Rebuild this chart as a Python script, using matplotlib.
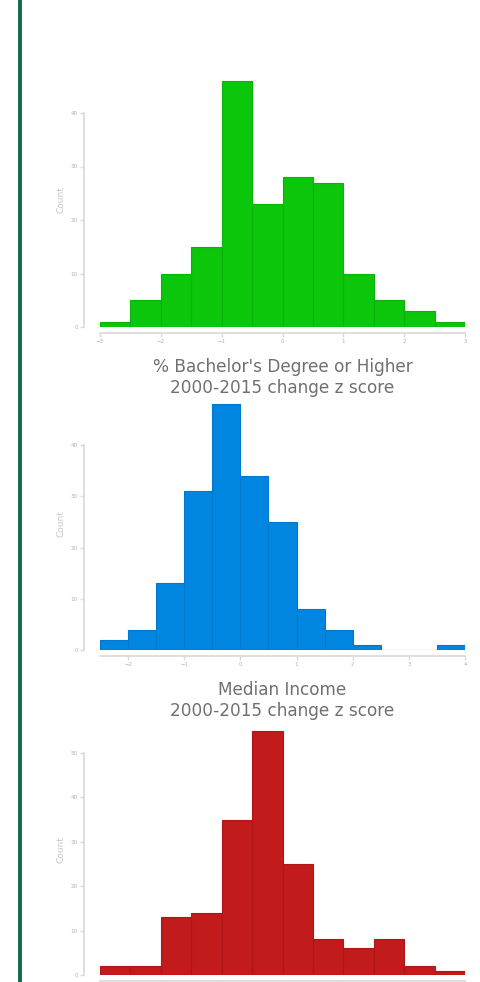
import matplotlib
matplotlib.use("Agg")
import matplotlib.pyplot as plt
import numpy as np

# ---------------- data ----------------
bach_edges = [-3.0, -2.5, -2.0, -1.5, -1.0, -0.5, 0.0, 0.5, 1.0, 1.5, 2.0, 2.5, 3.0]
bach_counts = [1, 5, 10, 15, 46, 23, 28, 27, 10, 5, 3, 1]
bach_ticks = [-3, -2, -1, 0, 1, 2, 3]
bach_yticks = [0, 10, 20, 30, 40]

inc_edges = [-2.5, -2.0, -1.5, -1.0, -0.5, 0.0, 0.5, 1.0, 1.5, 2.0, 2.5, 3.0, 3.5, 4.0]
inc_counts = [2, 4, 13, 31, 48, 34, 25, 8, 4, 1, 0, 0, 1]
inc_ticks = [-2, -1, 0, 1, 2, 3, 4]
inc_yticks = [0, 10, 20, 30, 40]

third_edges = [-3.0, -2.5, -2.0, -1.5, -1.0, -0.5, 0.0, 0.5, 1.0, 1.5, 2.0, 2.5, 3.0]
third_counts = [2, 2, 13, 14, 35, 55, 25, 8, 6, 8, 2, 1]
third_ticks = [-3, -2, -1, 0, 1, 2, 3]
third_yticks = [0, 10, 20, 30, 40, 50]

labels = ["% Bachelor's Degree or Higher\n2000-2015 change z score",
          "Median Income\n2000-2015 change z score",
          None]
colors = ["#0bc60b", "#0086e0", "#c11b1b"]
edgecols = ["#09b309", "#0078ca", "#ad1717"]

W, H = 480, 982
fig = plt.figure(figsize=(W / 100, H / 100), dpi=100)
fig.patch.set_facecolor("white")

# green vertical rule on the left
fig.add_artist(plt.Line2D([19.5 / W, 19.5 / W], [0, 1], color="#116b4a", lw=2.8,
                          transform=fig.transFigure))

panels = [
    (bach_edges, bach_counts, bach_ticks, bach_yticks, 327, 5.35, 47.5),
    (inc_edges, inc_counts, inc_ticks, inc_yticks, 650, 5.125, 49.5),
    (third_edges, third_counts, third_ticks, third_yticks, 975, 4.44, 56.5),
]

grey = "#d9d9d9"
for i, (edges, counts, xt, yt, base_px, ppc, ytop) in enumerate(panels):
    left_px, right_px = 100, 465
    h_px = ytop * ppc
    ax = fig.add_axes([left_px / W, (H - base_px) / H,
                       (right_px - left_px) / W, h_px / H])
    e = np.array(edges)
    ax.bar(e[:-1], counts, width=np.diff(e), align="edge", color=colors[i],
           edgecolor=edgecols[i], linewidth=0.8)
    ax.set_xlim(edges[0], edges[-1])
    ax.set_ylim(0, ytop)
    ax.set_xticks(xt)
    ax.set_yticks(yt)
    for s in ["top", "right"]:
        ax.spines[s].set_visible(False)
    ax.spines["left"].set_position(("outward", 11.5))
    ax.spines["bottom"].set_position(("outward", 4.3))
    ax.spines["left"].set_bounds(yt[0], yt[-1])
    for s in ["left", "bottom"]:
        ax.spines[s].set_color(grey)
        ax.spines[s].set_linewidth(1.2)
    ax.tick_params(axis="both", colors=grey, labelcolor="#b0b0b0",
                   labelsize=4, length=3, width=1.0, pad=1.5)
    ax.set_ylabel("Count", fontsize=6.5, color="#c8c8c8", labelpad=4)
    if labels[i] is not None:
        ax.set_xlabel(labels[i], fontsize=12.2, color="#707070", labelpad=10,
                      linespacing=1.2)
    else:
        # bottom panel's axis runs off the bottom of the picture
        ax.tick_params(axis="x", labelbottom=False)
    ax.patch.set_alpha(0)

fig.savefig("out.png", dpi=100, facecolor="white")
